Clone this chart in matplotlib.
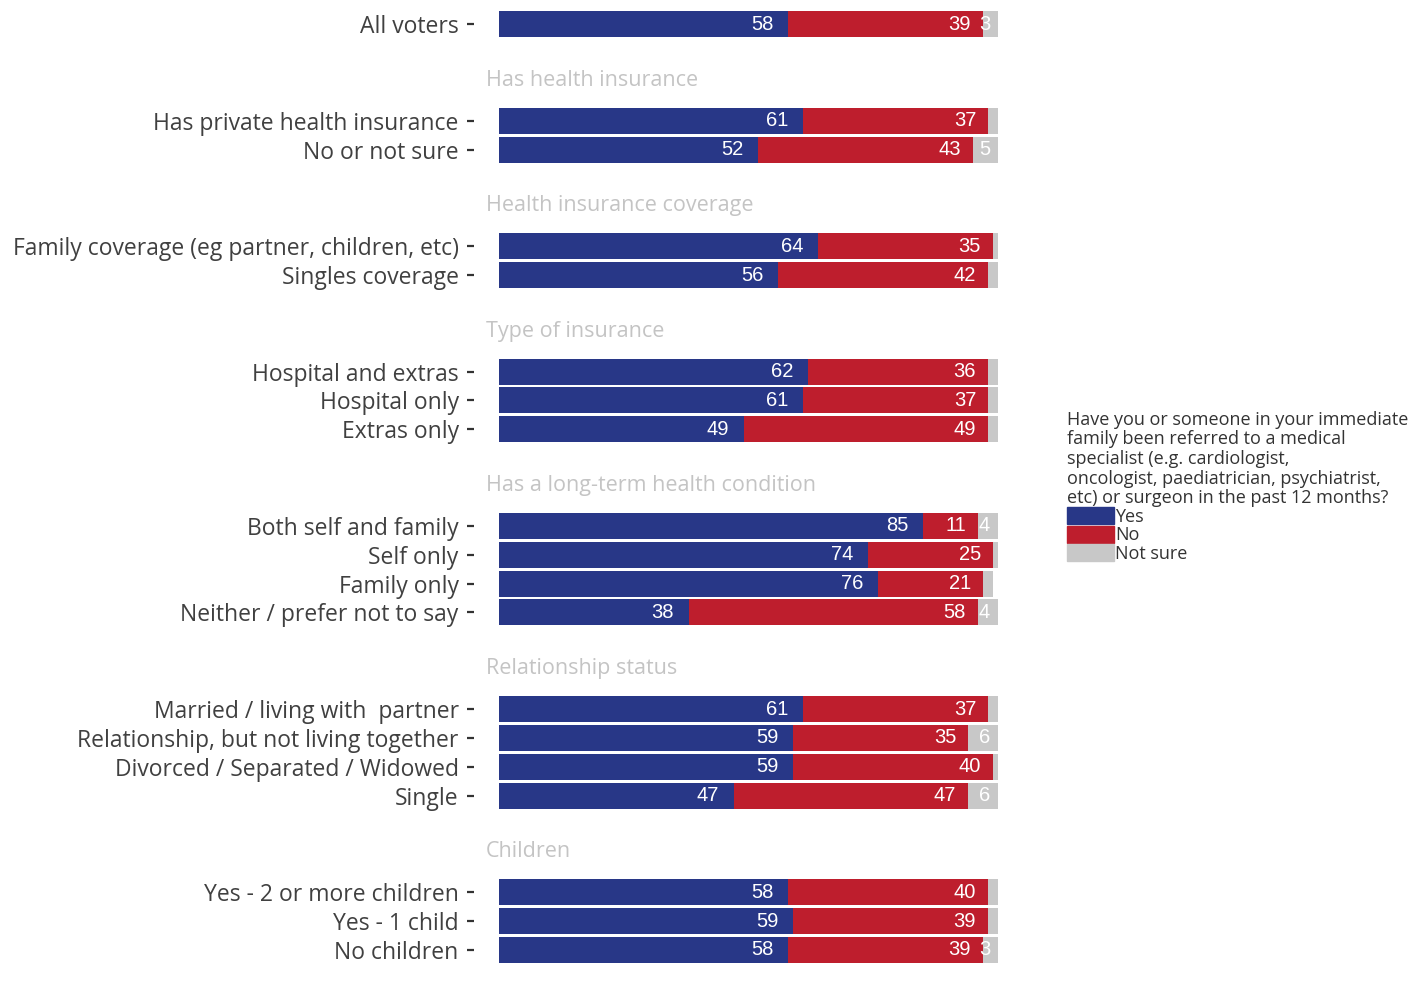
import matplotlib
matplotlib.use('Agg')
import matplotlib.pyplot as plt
from matplotlib.patches import Patch

# rows, top to bottom
groups = ['', 'Has health insurance', 'Has health insurance',
          'Health insurance coverage', 'Health insurance coverage',
          'Type of insurance', 'Type of insurance', 'Type of insurance',
          'Has a long-term health condition', 'Has a long-term health condition',
          'Has a long-term health condition', 'Has a long-term health condition',
          'Relationship status', 'Relationship status', 'Relationship status', 'Relationship status',
          'Children', 'Children', 'Children']
categories = ['All voters',
              'Has private health insurance', 'No or not sure',
              'Family coverage (eg partner, children, etc)', 'Singles coverage',
              'Hospital and extras', 'Hospital only', 'Extras only',
              'Both self and family', 'Self only', 'Family only', 'Neither / prefer not to say',
              'Married / living with  partner', 'Relationship, but not living together',
              'Divorced / Separated / Widowed', 'Single',
              'Yes - 2 or more children', 'Yes - 1 child', 'No children']
yes = [58, 61, 52, 64, 56, 62, 61, 49, 85, 74, 76, 38, 61, 59, 59, 47, 58, 59, 58]
no = [39, 37, 43, 35, 42, 36, 37, 49, 11, 25, 21, 58, 37, 35, 40, 47, 40, 39, 39]
not_sure = [3, 2, 5, 1, 2, 2, 2, 2, 4, 1, 2, 4, 2, 6, 1, 6, 2, 2, 3]

legend_title = ('Have you or someone in your immediate\n'
                'family been referred to a medical\n'
                'specialist (e.g. cardiologist,\n'
                'oncologist, paediatrician, psychiatrist,\n'
                'etc) or surgeon in the past 12 months?')

BLUE = '#283787'
RED = '#be1e2d'
GREY = '#c8c8c8'
GAP = 3.35

plt.rcParams['font.family'] = ['Open Sans', 'DejaVu Sans']

# y positions with extra space between groups
ypos = []
headers = []
y = 0.0
for i, g in enumerate(groups):
    if i > 0 and g != groups[i - 1]:
        y += GAP
        headers.append((y - 1.4, g))
    elif i > 0:
        y += 1
    ypos.append(y)

fig = plt.figure(figsize=(14.14, 9.81), dpi=100)
ax = fig.add_axes([474 / 1414, 1 - 973 / 981, 549 / 1414, 972 / 981])

left_no = [a for a in yes]
left_ns = [a + b for a, b in zip(yes, no)]
ax.barh(ypos, yes, height=0.9, color=BLUE)
ax.barh(ypos, no, left=left_no, height=0.9, color=RED)
ax.barh(ypos, not_sure, left=left_ns, height=0.9, color=GREY)

num_font = dict(color='white', fontsize=14.5, ha='right', va='center',
                family=['Liberation Sans', 'DejaVu Sans'])
for yy, a, b, c in zip(ypos, yes, no, not_sure):
    ax.text(a - 3.0, yy, str(a), **num_font)
    ax.text(a + b - 2.4, yy, str(b), **num_font)
    if c >= 3:
        ax.text(a + b + c - 1.6, yy, str(c), **num_font)

for hy, name in headers:
    ax.text(-2.6, hy, name, color='#c4c4c4', fontsize=15.5, ha='left', va='center')

ax.set_xlim(-5, 105)
ax.set_ylim(ypos[-1] + 0.8, -0.8)
ax.set_yticks(ypos)
ax.set_yticklabels(categories, fontsize=16.5, color='#404040')
ax.tick_params(axis='y', length=5, width=1.6, color='#333333', pad=6)
ax.set_xticks([])
for s in ax.spines.values():
    s.set_visible(False)

handles = [Patch(color=BLUE), Patch(color=RED), Patch(color=GREY)]
leg = fig.legend(handles, ['Yes', 'No', 'Not sure'], title=legend_title,
                 loc='upper left', bbox_to_anchor=(1054 / 1414, 1 - 398 / 981),
                 frameon=False, alignment='left', fontsize=13, title_fontsize=13,
                 handlelength=2.6, handleheight=1.05, labelspacing=0.0,
                 handletextpad=0.1, borderpad=0.2)
for t in leg.get_texts():
    t.set_color('#333333')
leg.get_title().set_color('#333333')
leg.get_title().set_linespacing(1.12)

fig.savefig('out.png', dpi=100)
